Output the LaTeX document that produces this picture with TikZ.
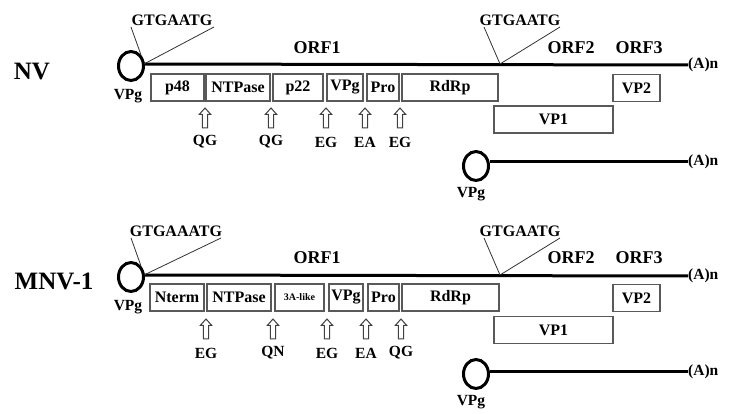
\documentclass[tikz,border=0pt]{standalone}
\usepackage{fontspec}
\setmainfont{Liberation Serif}
\usetikzlibrary{shapes.geometric}
\newcommand{\fs}[1]{\fontsize{#1}{#1}\selectfont\bfseries}
% hollow upward block arrow marking a cleavage site, centred on a named coordinate
\newcommand{\cutmark}[3]{%
  \coordinate (#1) at (#2,#3);
  \draw[cut] ([shift={(-2.6,10)}]#1) -- ([shift={(-2.6,-3.5)}]#1) -- ([shift={(-5.8,-3.5)}]#1)
    -- ([shift={(0,-10)}]#1) -- ([shift={(5.8,-3.5)}]#1) -- ([shift={(2.6,-3.5)}]#1)
    -- ([shift={(2.6,10)}]#1) -- cycle;}
\tikzset{
  seg/.style={draw=black!65, line width=1.2pt, inner sep=0pt, font=\fs{16}},
  genome/.style={line width=3pt},
  capoval/.style={ellipse, draw, line width=3pt, minimum width=25pt, minimum height=29pt, inner sep=0pt},
  site/.style={draw=black!80, line width=0.8pt},
  cut/.style={draw=black!75, line width=1pt, line join=miter},
  lbl/.style={inner sep=0pt, font=\fs{15.5}},
  orf/.style={inner sep=0pt, font=\fs{18}},
  seq/.style={inner sep=0pt, font=\fs{16}},
  virus/.style={inner sep=0pt, font=\fs{25}},
}
\begin{document}
\begin{tikzpicture}[x=1pt,y=-1pt]
\useasboundingbox (0,0) rectangle (729,414);
\fill[white] (0,0) rectangle (729,414);

% ---------------- NV ----------------
\node[virus] (nv) at (32,72) {NV};
\node[capoval] (nvcap) at (131,66) {};
\node[lbl] (nvcapl) at (128,96) {VPg};
\coordinate (nvstart) at (144,64);
\node[lbl, anchor=west] (nvpa) at (688,65) {(A)n};
\draw[genome] (nvstart) -- (nvpa.west);

\node[seq] (nvs1) at (172,20) {GTGAATG};
\node[seq] (nvs2) at (520,20) {GTGAATG};
\coordinate (nvsg) at (500,64);
\draw[site] (131,27) -- (nvcap.north east);
\draw[site] (214,27) -- (nvstart);
\draw[site] (484,27) -- (nvsg);
\draw[site] (560,27) -- (nvsg);

\node[orf] (nvorf1) at (317,48) {ORF1};
\node[orf] (nvorf2) at (571,48) {ORF2};
\node[orf] (nvorf3) at (639,48) {ORF3};

\foreach \n/\l/\r/\t in {nvp48/151/204/p48, nvntp/206/270/NTPase, nvp22/273/323/p22,
    nvvpg/327/363/VPg, nvpro/367/399/Pro, nvrdrp/402/498/RdRp}
  \node[seg, minimum width={(\r-\l)*1pt}, minimum height=27pt] (\n) at ({(\l+\r)/2},87.5) {\t};
\node[seg, minimum width=47pt, minimum height=27pt] (nvvp2) at (636.5,88) {VP2};
\node[seg, minimum width=119pt, minimum height=27pt] (nvvp1) at (553.5,119.5) {VP1};

\foreach \n/\x/\t in {a/205/QG, b/271/QG, c/326/EG, d/365/EA, e/400/EG} {
  \cutmark{nvcut\n}{\x}{118}
  \node[lbl] (nvcutl\n) at (\x,142) {\t};
}

\node[capoval] (nvsub) at (476,166) {};
\node[lbl] (nvsubl) at (471,194) {VPg};
\node[lbl, anchor=west] (nvsubpa) at (688,162) {(A)n};
\draw[genome] (nvsub.east |- nvsubpa.west) -- (nvsubpa.west);

% ---------------- MNV-1 ----------------
\node[virus] (mnv) at (54,281) {MNV-1};
\node[capoval] (mnvcap) at (131,277) {};
\node[lbl] (mnvcapl) at (128,307) {VPg};
\coordinate (mnvstart) at (144,275);
\node[lbl, anchor=west] (mnvpa) at (688,276) {(A)n};
\draw[genome] (mnvstart) -- (mnvpa.west);

\node[seq] (mnvs1) at (176,231) {GTGAAATG};
\node[seq] (mnvs2) at (520,231) {GTGAATG};
\coordinate (mnvsg) at (500,275);
\draw[site] (131,238) -- (mnvcap.north east);
\draw[site] (221,238) -- (mnvstart);
\draw[site] (484,238) -- (mnvsg);
\draw[site] (560,238) -- (mnvsg);

\node[orf] (mnvorf1) at (317,258) {ORF1};
\node[orf] (mnvorf2) at (571,258) {ORF2};
\node[orf] (mnvorf3) at (639,258) {ORF3};

\foreach \n/\l/\r/\t in {mnvnt/150/204/Nterm, mnvntp/207/271/NTPase,
    mnvvpg/329/363/VPg, mnvpro/368/399/Pro, mnvrdrp/402/499/RdRp}
  \node[seg, minimum width={(\r-\l)*1pt}, minimum height=27pt] (\n) at ({(\l+\r)/2},297.5) {\t};
\node[seg, minimum width=49pt, minimum height=27pt, font=\fs{10}] (mnv3a) at (299.5,297.5) {3A-like};
\node[seg, minimum width=47pt, minimum height=27pt] (mnvvp2) at (636.5,298) {VP2};
\node[seg, minimum width=119pt, minimum height=27pt] (mnvvp1) at (553.5,330) {VP1};

\foreach \n/\x/\t in {a/206/EG, b/273/QN, c/327/EG, d/366/EA, e/401/QG} {
  \cutmark{mnvcut\n}{\x}{329}
  \node[lbl] (mnvcutl\n) at (\x,353) {\t};
}

\node[capoval] (mnvsub) at (476,374) {};
\node[lbl] (mnvsubl) at (471,402) {VPg};
\node[lbl, anchor=west] (mnvsubpa) at (688,372) {(A)n};
\draw[genome] (mnvsub.east |- mnvsubpa.west) -- (mnvsubpa.west);
\end{tikzpicture}
\end{document}
